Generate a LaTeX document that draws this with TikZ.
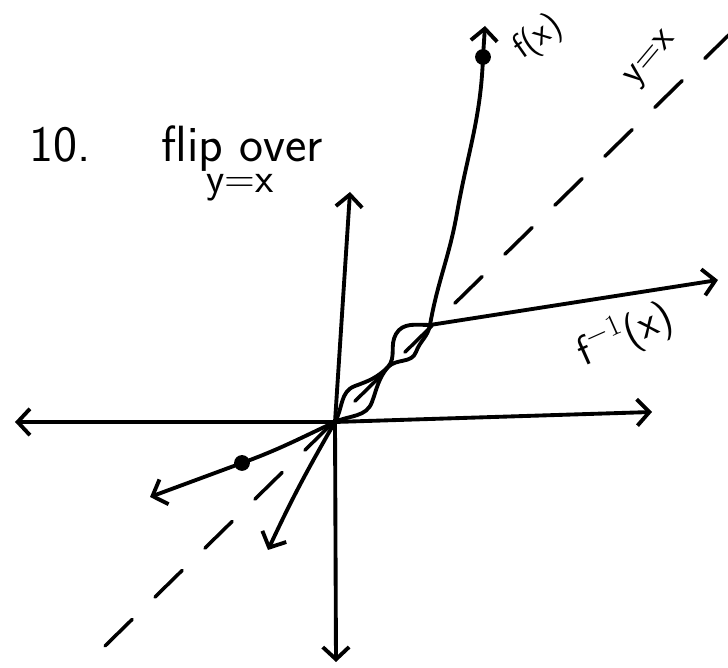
\documentclass[tikz,border=0pt]{standalone}
\usepackage{fontspec}
\usetikzlibrary{arrows.meta}

\begin{document}
\begin{tikzpicture}[x=0.02cm,y=0.02cm,
line width=2.2pt, line cap=round, line join=round,
>={Straight Barb[length=7pt,width=15pt]},
lbl/.style={inner sep=0pt,font=\sffamily\fontsize{22}{24}\selectfont},
dot/.style={circle,fill,inner sep=0pt,minimum size=9pt}]

\useasboundingbox (0,0) rectangle (728,668);

% axes
\coordinate (O) at (335,246);
\coordinate (xl) at (15,246);
\coordinate (xr) at (652,256);
\coordinate (yt) at (350,476);
\coordinate (yb) at (336,6);
\draw[<->] (xl) -- (O) -- (xr);
\draw[<->] (yb) -- (O) -- (yt);

% y=x
\coordinate (dl) at (105,22);
\coordinate (dr) at (740,644);
\draw[line width=2pt,dash pattern=on 0.76cm off 0.64cm] (dl) -- (dr);

% crossings of the two curves
\coordinate (c1) at (388,301);
\coordinate (c2) at (430,343);

% f(x)
\coordinate (fs) at (268,118);
\coordinate (fa) at (355,282);
\coordinate (fb) at (416,316);
\coordinate (fm) at (457,455);
\coordinate (fe) at (485,642);
\node[dot] (fdot) at (483,611) {};
\draw[<->] (fs) to[out=65,in=240] (O) to[out=60,in=200] (fa)
  to[out=20,in=225] (c1) to[out=45,in=250] (fb) to[out=70,in=260] (c2)
  to[out=80,in=260] (fm) to[out=80,in=268] (fdot.center) -- (fe);

% f^{-1}(x)
\coordinate (gs) at (150,171);
\node[dot] (gdot) at (242,205) {};
\coordinate (ga) at (372,266);
\coordinate (gb) at (396,334);
\coordinate (ge) at (718,388);
\draw[<->] (gs) -- (gdot.center) to[out=20,in=205] (O) to[out=25,in=250] (ga)
  to[out=70,in=230] (c1) to[out=50,in=240] (gb) to[out=60,in=180] (c2) -- (ge);

% labels
\node[lbl,rotate=35,font=\sffamily\fontsize{20}{22}\selectfont] (flbl) at (538,630) {f(x)};
\node[lbl,rotate=50] (ylbl) at (652,608) {y=x};
\node[lbl,rotate=24,font=\sffamily\fontsize{24}{26}\selectfont] (glbl) at (625,333) {f$^{-1}$(x)};
\node[lbl,anchor=base west,font=\sffamily\fontsize{29}{31}\selectfont] (num) at (28,506) {10.};
\node[lbl,anchor=base west,font=\sffamily\fontsize{29}{31}\selectfont] (flip) at (160,506) {flip over};
\node[lbl,font=\sffamily\fontsize{24}{26}\selectfont] (flipy) at (240,480) {y=x};

\end{tikzpicture}
\end{document}
